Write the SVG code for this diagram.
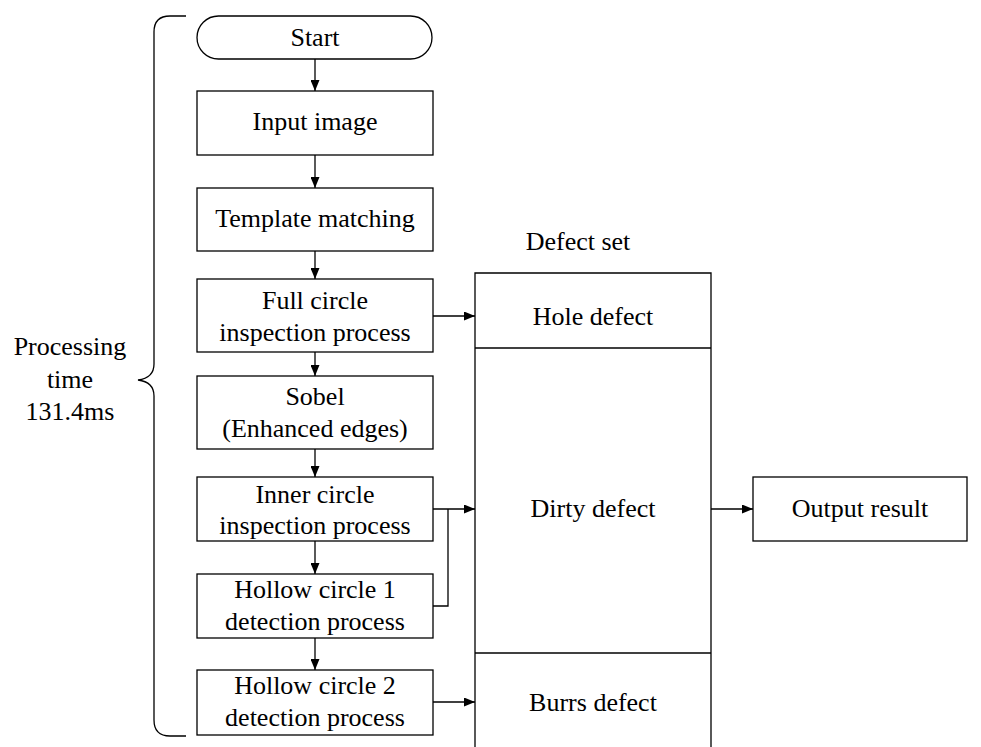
<svg xmlns="http://www.w3.org/2000/svg" width="981" height="747" viewBox="0 0 981 747">
  <defs>
    <style>
      .box { fill: #fff; stroke: #000; stroke-width: 1.3; }
      .ln { fill: none; stroke: #000; stroke-width: 1.3; }
    </style>
    <marker id="arr" viewBox="0 0 10 10" refX="10" refY="5" markerWidth="11" markerHeight="9" markerUnits="userSpaceOnUse" orient="auto" preserveAspectRatio="none">
      <path d="M0,0 L10,5 L0,10 z" fill="#000"/>
    </marker>
  </defs>
  <rect width="981" height="747" fill="#fff"/>

  <!-- connectors -->
  <g id="connectors">
    <line class="ln" x1="315" y1="59" x2="315" y2="91" marker-end="url(#arr)"/>
    <line class="ln" x1="315" y1="155" x2="315" y2="188" marker-end="url(#arr)"/>
    <line class="ln" x1="315" y1="251" x2="315" y2="279" marker-end="url(#arr)"/>
    <line class="ln" x1="315" y1="352" x2="315" y2="376" marker-end="url(#arr)"/>
    <line class="ln" x1="315" y1="449" x2="315" y2="477" marker-end="url(#arr)"/>
    <line class="ln" x1="315" y1="541" x2="315" y2="574" marker-end="url(#arr)"/>
    <line class="ln" x1="315" y1="638" x2="315" y2="670" marker-end="url(#arr)"/>
    <line class="ln" x1="433" y1="316" x2="475" y2="316" marker-end="url(#arr)"/>
    <line class="ln" x1="433" y1="509" x2="475" y2="509" marker-end="url(#arr)"/>
    <polyline class="ln" points="433,606 448,606 448,509"/>
    <line class="ln" x1="433" y1="702" x2="475" y2="702" marker-end="url(#arr)"/>
    <line class="ln" x1="711" y1="509" x2="753" y2="509" marker-end="url(#arr)"/>
  </g>

  <g font-family="Liberation Serif, Times New Roman, Tinos, serif" font-size="26" fill="#000" text-anchor="middle">
    <!-- brace spanning the processing steps -->
    <g id="brace">
      <path class="ln" d="M186,16 L170,16 Q154,16 154,32 L154,364 Q154,378 138,380 Q154,382 154,396 L154,720 Q154,736 170,736 L186,736"/>
      <text x="70" y="355">Processing</text>
      <text x="70" y="388">time</text>
      <text x="70" y="420">131.4ms</text>
    </g>

    <g id="start">
      <rect class="box" x="197" y="16" width="235" height="43" rx="21.5" ry="21.5"/>
      <text x="315" y="46">Start</text>
    </g>
    <g id="input-image">
      <rect class="box" x="197" y="91" width="236" height="64"/>
      <text x="315" y="130">Input image</text>
    </g>
    <g id="template-matching">
      <rect class="box" x="197" y="188" width="236" height="63"/>
      <text x="315" y="227">Template matching</text>
    </g>
    <g id="full-circle">
      <rect class="box" x="197" y="279" width="236" height="73"/>
      <text x="315" y="309">Full circle</text>
      <text x="315" y="341">inspection process</text>
    </g>
    <g id="sobel">
      <rect class="box" x="197" y="376" width="236" height="73"/>
      <text x="315" y="405">Sobel</text>
      <text x="315" y="437">(Enhanced edges)</text>
    </g>
    <g id="inner-circle">
      <rect class="box" x="197" y="477" width="236" height="64"/>
      <text x="315" y="503">Inner circle</text>
      <text x="315" y="534">inspection process</text>
    </g>
    <g id="hollow-1">
      <rect class="box" x="197" y="574" width="236" height="64"/>
      <text x="315" y="598">Hollow circle 1</text>
      <text x="315" y="630">detection process</text>
    </g>
    <g id="hollow-2">
      <rect class="box" x="197" y="670" width="236" height="65"/>
      <text x="315" y="694">Hollow circle 2</text>
      <text x="315" y="726">detection process</text>
    </g>

    <g id="defect-set">
      <text x="578" y="250">Defect set</text>
      <path class="ln" d="M475,747 L475,273 L711,273 L711,747"/>
      <line class="ln" x1="475" y1="348" x2="711" y2="348"/>
      <line class="ln" x1="475" y1="653" x2="711" y2="653"/>
      <text x="593" y="325">Hole defect</text>
      <text x="593" y="517">Dirty defect</text>
      <text x="593" y="711">Burrs defect</text>
    </g>

    <g id="output-result">
      <rect class="box" x="753" y="477" width="214" height="64"/>
      <text x="860" y="517">Output result</text>
    </g>
  </g>
</svg>
